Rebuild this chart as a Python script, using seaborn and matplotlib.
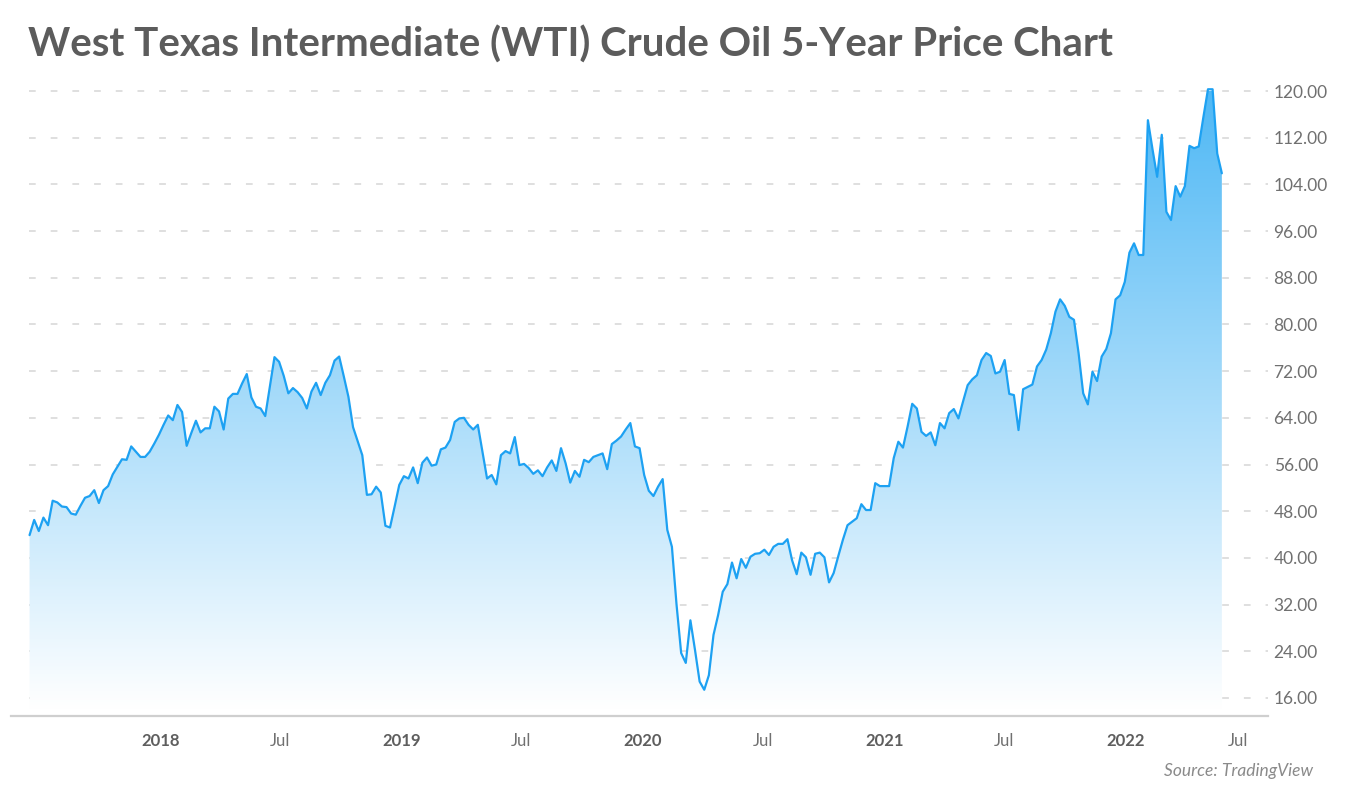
import numpy as np
import pandas as pd
import matplotlib
matplotlib.use("Agg")
import matplotlib.pyplot as plt
import matplotlib.dates as mdates
from matplotlib.colors import LinearSegmentedColormap
import seaborn as sns

# ===================== DATA (weekly WTI close) =====================
START_DATE = "2017-06-16"

prices_2017_2018 = [
    43.9, 46.5, 44.6, 46.9, 45.6, 49.8, 49.5, 48.8, 48.7, 47.6,
    47.4, 48.9, 50.3, 50.6, 51.6, 49.4, 51.6, 52.3, 54.3, 55.6,
    56.9, 56.8, 59.1, 58.2, 57.3, 57.3, 58.2, 59.6, 61.1, 62.8,
    64.4, 63.6, 66.2, 65.0, 59.2, 61.4, 63.5, 61.5, 62.2, 62.2,
    65.9, 65.1, 62.0, 67.3, 68.1, 68.1, 69.9, 71.5, 67.5, 65.9,
    65.6, 64.3, 69.4, 74.4, 73.6, 71.2, 68.2, 69.1, 68.4, 67.4,
    65.6, 68.5, 70.0, 67.9, 70.0, 71.3, 73.8, 74.5, 71.1, 67.6,
    62.4, 60.0, 57.6, 50.8,
]
prices_2019 = [
    50.9, 52.2, 51.2, 45.5, 45.2, 48.8, 52.5, 54.0, 53.6, 55.5,
    52.8, 56.3, 57.2, 55.8, 56.0, 58.6, 58.9, 60.2, 63.3, 63.9,
    64.0, 62.8, 62.0, 62.8, 58.2, 53.6, 54.2, 52.6, 57.6, 58.3,
    57.9, 60.7, 55.9, 56.1, 55.4, 54.4, 55.0, 54.0, 55.5, 56.7,
    54.9, 58.8, 56.2, 52.9, 54.9, 53.9, 56.8, 56.4, 57.3, 57.6,
    57.9, 55.2, 59.5, 60.1, 60.8, 62.0, 63.1, 59.1, 58.8, 54.2,
    51.5, 50.6, 52.2, 53.5,
]
prices_2020 = [
    44.8, 41.9, 32.0, 23.7, 22.0, 29.3, 24.2, 18.8, 17.4, 19.9,
    26.8, 30.2, 34.2, 35.5, 39.2, 36.5, 39.8, 38.3, 40.2, 40.7,
    40.8, 41.4, 40.5, 41.9, 42.4, 42.4, 43.2, 39.6, 37.2, 40.9,
    40.1, 37.1, 40.7, 40.9, 40.1, 35.8, 37.4, 40.3, 43.1, 45.6,
    46.2, 46.8, 49.2, 48.2, 48.2, 52.8, 52.3, 52.3, 52.3, 57.1,
    59.9,
]
prices_2021 = [
    58.9, 62.5, 66.4, 65.6, 61.6, 60.9, 61.5, 59.3, 63.1, 62.2,
    64.8, 65.5, 63.9, 66.8, 69.6, 70.6, 71.3, 73.9, 75.1, 74.6,
    71.6, 71.9, 73.9, 68.1, 67.9, 61.9, 68.9, 69.3, 69.7, 72.8,
    73.9, 75.7, 78.5, 82.2, 84.3, 83.2, 81.3, 80.8, 75.1, 68.2,
    66.3, 71.9, 70.3, 74.5, 75.8, 78.5, 84.3, 85.0, 87.3,
]
prices_2022 = [
    92.3, 93.9, 91.9, 91.9, 115.0, 110.0, 105.3, 112.5, 99.3, 97.9,
    103.7, 101.9, 103.7, 110.6, 110.2, 110.5, 115.5, 120.3, 120.3, 109.3,
    105.9,
]

prices = prices_2017_2018 + prices_2019 + prices_2020 + prices_2021 + prices_2022
dates = pd.date_range(START_DATE, periods=len(prices), freq="7D")
df = pd.DataFrame({"date": dates, "price": prices})

y_ticks = list(range(16, 121, 8))
x_tick_dates = ["2018-01-01", "2018-07-01", "2019-01-01", "2019-07-01", "2020-01-01",
                "2020-07-01", "2021-01-01", "2021-07-01", "2022-01-01", "2022-06-20"]
x_tick_labels = ["2018", "Jul", "2019", "Jul", "2020", "Jul", "2021", "Jul", "2022", "Jul"]

# ===================== STYLE =====================
LINE = "#1da1f2"
GRID = "#d6d6d6"
TEXT = "#707070"

sns.set_theme(style="white")
plt.rcParams["font.family"] = ["Lato", "DejaVu Sans"]

fig = plt.figure(figsize=(13.5, 8.02), dpi=100)
ax = fig.add_axes([0.0082, 0.1072, 0.9311, 0.7975])

ymin, ymax = 12.9, 122.5
xmin = pd.Timestamp(START_DATE) - pd.Timedelta(days=28)
xmax = dates[-1] + pd.Timedelta(days=70)

# gradient fill under the line
poly = ax.fill_between(df["date"], df["price"], ymin, color="none", lw=0)
cmap = LinearSegmentedColormap.from_list("wti", ["#ffffff", "#4fb8f5"])
grad = np.linspace(1, 0, 256).reshape(-1, 1)
img = ax.imshow(grad, cmap=cmap, aspect="auto", zorder=1,
                extent=[mdates.date2num(xmin), mdates.date2num(xmax), 14.0, 120.0],
                origin="upper", vmin=0, vmax=1)
img.set_clip_path(poly.get_paths()[0], transform=ax.transData)

sns.lineplot(data=df, x="date", y="price", color=LINE, linewidth=1.6, ax=ax, zorder=3)

ax.set_xlim(xmin, xmax)
ax.set_ylim(ymin, ymax)

# grid lines
for v in y_ticks:
    ax.axhline(v, xmin=0.014, color=GRID, lw=1.1, ls=(0, (4.4, 9.8)), zorder=0.5)

ax.yaxis.tick_right()
ax.set_yticks(y_ticks)
ax.set_yticklabels([f"{v:.2f}" for v in y_ticks], fontsize=12.5, color=TEXT)
ax.tick_params(axis="y", length=0, pad=4)

ax.set_xticks(pd.to_datetime(x_tick_dates))
ax.set_xticklabels(x_tick_labels, fontsize=12, color=TEXT)
for lab in ax.get_xticklabels():
    if lab.get_text() != "Jul":
        lab.set_fontweight("bold")
        lab.set_color("#5e5e5e")
ax.tick_params(axis="x", length=0, pad=12)

ax.set_xlabel("")
ax.set_ylabel("")
for s in ["top", "right", "left"]:
    ax.spines[s].set_visible(False)
ax.spines["bottom"].set_color("#cfcfcf")
ax.spines["bottom"].set_linewidth(1.6)

fig.text(28 / 1350, 1 - 45 / 802, "West Texas Intermediate (WTI) Crude Oil 5-Year Price Chart",
         fontsize=29, fontweight="bold", color="#5c5c5c", ha="left", va="center")
fig.text(1313 / 1350, 1 - 771 / 802, "Source: TradingView", fontsize=12.5, style="italic",
         color="#8a8a8a", ha="right", va="center")

fig.savefig("out.png", dpi=100)
